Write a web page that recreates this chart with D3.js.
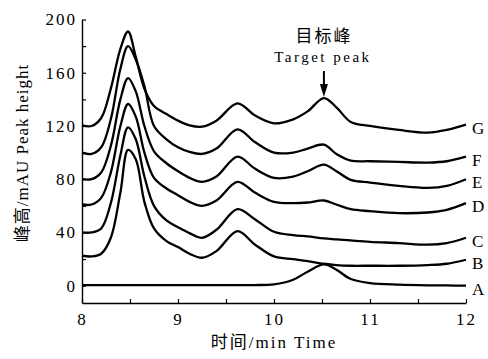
<!DOCTYPE html>
<html lang="en">
<head>
    <meta charset="UTF-8">
    <script src="https://d3js.org/d3.v7.min.js"></script>
    <style>
        body { margin: 0; background: #fff; }
        text { font-family: "Liberation Serif", "Noto Sans CJK SC", serif; fill: #000; }
    </style>
</head>
<body>
    <div id="chart"></div>
    <script>
        // retention times (min)
        var times = [8.0, 8.1, 8.2, 8.3, 8.4, 8.48, 8.56, 8.65, 8.75, 8.88, 9.0, 9.12, 9.25, 9.4, 9.62,
            9.8, 10.0, 10.2, 10.35, 10.52, 10.65, 10.8, 11.0, 11.3, 11.6, 11.8, 12.0];

        var seriesNames = ["A", "B", "C", "D", "E", "F", "G"];

        // peak height (mAU), offset traces
        var valuesA = [0.5, 0.5, 0.5, 0.5, 0.5, 0.5, 0.5, 0.5, 0.5, 0.5, 0.5, 0.5, 0.5, 0.5, 0.5,
            0.5, 1, 4.5, 10.5, 16, 12, 5, 2, 0.8, 0.3, 0.2, 0];
        var valuesB = [22.5, 22, 24, 36, 70, 102, 95, 63, 43, 33.5, 29, 24, 21, 26, 41,
            31, 22, 20, 18.5, 16.5, 15.5, 15, 15, 15, 15.5, 16.5, 19.5];
        var valuesC = [40, 40, 43, 62, 98, 119, 110, 82, 60, 49, 44, 39.5, 36, 42, 57.5,
            50, 40.5, 38, 37, 35.5, 34.8, 34, 33, 32, 30.8, 32, 36];
        var valuesD = [61, 61, 66, 85, 120, 136.5, 127, 100, 81, 73, 68, 63, 60, 64, 78,
            70, 63, 62, 62.5, 64, 61, 57.5, 56, 54.5, 55, 57, 62];
        var valuesE = [80, 80, 85, 105, 140, 156, 146, 120, 101, 92, 86, 81, 78, 82, 97,
            88, 81, 82, 86, 91, 86, 79.5, 77.5, 75, 73.5, 75, 80];
        var valuesF = [100, 99, 104, 125, 163, 180, 170, 150, 120, 110, 104, 100.5, 99, 103, 117.5,
            108, 100, 100, 103, 106, 99, 94, 93.5, 93, 92.5, 93.5, 97];
        var valuesG = [120.5, 120, 126, 148, 178, 191, 172, 148, 135, 129, 124, 120.5, 119.5, 124, 137,
            128, 122, 125, 131, 141, 134, 123, 120, 117, 115, 117, 121];

        var allValues = [valuesA, valuesB, valuesC, valuesD, valuesE, valuesF, valuesG];

        var xTicks = [8, 9, 10, 11, 12];
        var xMinorTicks = [8.5, 9.5, 10.5, 11.5];
        var yTicks = [0, 40, 80, 120, 160, 200];
        var yMinorTicks = [20, 60, 100, 140, 180];

        var targetTime = 10.52;
        var targetHeight = 141;

        var width = 488, height = 359;
        var margin = { top: 19.5, right: 22, bottom: 56, left: 82 };

        var svg = d3.select("#chart")
            .append("svg")
            .attr("width", width)
            .attr("height", height);

        var x = d3.scaleLinear()
            .domain([8, 12])
            .range([margin.left, width - margin.right]);

        var y = d3.scaleLinear()
            .domain([-13, 200])
            .range([height - margin.bottom, margin.top]);

        // axes with inward ticks
        svg.append("g")
            .attr("transform", "translate(0," + y(-13) + ")")
            .call(d3.axisBottom(x).tickValues(xTicks).tickSizeInner(-4).tickSizeOuter(0).tickPadding(10).tickFormat(d3.format("d")));
        svg.append("g")
            .attr("transform", "translate(0," + y(-13) + ")")
            .call(d3.axisBottom(x).tickValues(xMinorTicks).tickSizeInner(-4).tickSizeOuter(0).tickFormat(""))
            .select(".domain").remove();

        svg.append("g")
            .attr("transform", "translate(" + x(8) + ",0)")
            .call(d3.axisLeft(y).tickValues(yTicks).tickSizeInner(-4).tickSizeOuter(0).tickPadding(5).tickFormat(d3.format("d")));
        svg.append("g")
            .attr("transform", "translate(" + x(8) + ",0)")
            .call(d3.axisLeft(y).tickValues(yMinorTicks).tickSizeInner(-4).tickSizeOuter(0).tickFormat(""))
            .select(".domain").remove();

        svg.selectAll(".domain").attr("stroke", "#000").attr("stroke-width", 1.4);
        svg.selectAll(".tick line").attr("stroke", "#000").attr("stroke-width", 1.2);
        svg.selectAll(".tick text")
            .attr("font-family", null)
            .attr("font-size", null)
            .style("font-size", "17px")
            .style("letter-spacing", "2px");

        // traces
        var line = d3.line()
            .x(function (d, i) { return x(times[i]); })
            .y(function (d) { return y(d); })
            .curve(d3.curveCatmullRom.alpha(0.5));

        svg.selectAll(".trace")
            .data(allValues)
            .enter()
            .append("path")
            .attr("class", "trace")
            .attr("d", line)
            .attr("fill", "none")
            .attr("stroke", "#000")
            .attr("stroke-width", 2.3)
            .attr("stroke-linejoin", "round");

        // trace labels at the right end
        svg.selectAll(".trace-label")
            .data(allValues)
            .enter()
            .append("text")
            .attr("class", "trace-label")
            .attr("x", x(12) + 6)
            .attr("y", function (d) { return y(d[d.length - 1]) + 9; })
            .style("font-size", "17px")
            .text(function (d, i) { return seriesNames[i]; });

        // target peak annotation
        var tx = x(targetTime), ty = y(targetHeight);
        svg.append("line")
            .attr("x1", tx).attr("x2", tx)
            .attr("y1", ty - 27).attr("y2", ty - 12)
            .attr("stroke", "#000")
            .attr("stroke-width", 2);
        svg.append("path")
            .attr("d", "M" + (tx - 4) + "," + (ty - 14) + "L" + (tx + 4) + "," + (ty - 14) + "L" + tx + "," + (ty - 1) + "Z")
            .attr("fill", "#000");
        svg.append("text")
            .attr("x", tx - 1)
            .attr("y", ty - 36)
            .attr("text-anchor", "middle")
            .style("font-size", "15px")
            .style("letter-spacing", "2.5px")
            .text("Target peak");
        svg.append("text")
            .attr("x", tx)
            .attr("y", ty - 56)
            .attr("text-anchor", "middle")
            .style("font-size", "17px")
            .style("letter-spacing", "2px")
            .text("目标峰");

        // axis titles
        svg.append("text")
            .attr("x", x(10))
            .attr("y", 348)
            .attr("text-anchor", "middle")
            .style("font-size", "17px")
            .style("letter-spacing", "2px")
            .text("时间/min Time");

        svg.append("text")
            .attr("transform", "translate(28,153) rotate(-90)")
            .attr("text-anchor", "middle")
            .style("font-size", "17px")
            .style("letter-spacing", "1px")
            .text("峰高/mAU Peak height");
    </script>
</body>
</html>
